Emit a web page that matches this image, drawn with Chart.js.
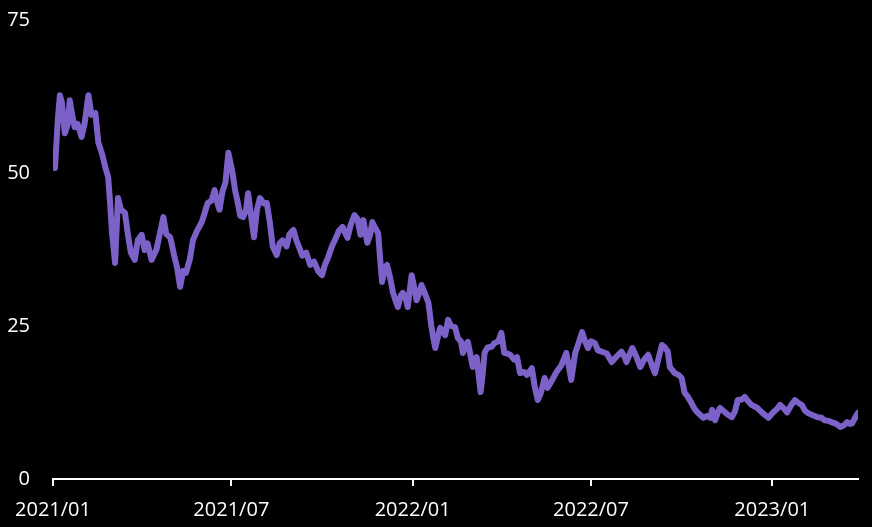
<!DOCTYPE html>
<html>
<head>
<meta charset="utf-8">
<script src="https://cdn.jsdelivr.net/npm/chart.js@4/dist/chart.umd.min.js"></script>
<style>
  html, body { margin: 0; padding: 0; background: #000; }
  #wrap { width: 872px; height: 527px; }
</style>
</head>
<body>
<div id="wrap"><canvas id="line-chart" width="872" height="527"></canvas></div>
<script>
// values
const dates = [
  '2021-01-01','2021-01-03','2021-01-06','2021-01-08','2021-01-10','2021-01-13','2021-01-16','2021-01-18','2021-01-21','2021-01-23',
  '2021-01-26','2021-01-30','2021-02-02','2021-02-06','2021-02-09','2021-02-13','2021-02-16','2021-02-20','2021-02-23','2021-02-26',
  '2021-02-28','2021-03-02','2021-03-05','2021-03-08','2021-03-11','2021-03-15','2021-03-18','2021-03-21','2021-03-25','2021-03-28',
  '2021-04-01','2021-04-04','2021-04-07','2021-04-11','2021-04-16','2021-04-20','2021-04-23','2021-04-26','2021-04-30','2021-05-04',
  '2021-05-07','2021-05-10','2021-05-13','2021-05-16','2021-05-20','2021-05-23','2021-05-27','2021-06-01','2021-06-04','2021-06-07',
  '2021-06-11','2021-06-14','2021-06-17','2021-06-19','2021-06-22','2021-06-25','2021-06-28','2021-07-02','2021-07-05','2021-07-07',
  '2021-07-10','2021-07-13','2021-07-16','2021-07-18','2021-07-21','2021-07-24','2021-07-27','2021-07-30','2021-08-03','2021-08-06',
  '2021-08-09','2021-08-12','2021-08-16','2021-08-19','2021-08-22','2021-08-26','2021-08-29','2021-09-02','2021-09-05','2021-09-07',
  '2021-09-11','2021-09-15','2021-09-19','2021-09-23','2021-09-27','2021-10-01','2021-10-04','2021-10-07','2021-10-11','2021-10-14',
  '2021-10-18','2021-10-22','2021-10-25','2021-10-27','2021-10-30','2021-11-03','2021-11-06','2021-11-09','2021-11-12','2021-11-16',
  '2021-11-19','2021-11-21','2021-11-24','2021-11-27','2021-11-29','2021-12-01','2021-12-04','2021-12-06','2021-12-09','2021-12-12',
  '2021-12-15','2021-12-17','2021-12-20','2021-12-22','2021-12-25','2021-12-27','2021-12-31','2022-01-03','2022-01-05','2022-01-08',
  '2022-01-10','2022-01-13','2022-01-17','2022-01-20','2022-01-22','2022-01-24','2022-01-27','2022-01-29','2022-02-01','2022-02-03',
  '2022-02-06','2022-02-09','2022-02-13','2022-02-16','2022-02-19','2022-02-21','2022-02-24','2022-02-26','2022-03-01','2022-03-03',
  '2022-03-07','2022-03-09','2022-03-11','2022-03-13','2022-03-15','2022-03-18','2022-03-22','2022-03-25','2022-03-29','2022-04-01',
  '2022-04-04','2022-04-07','2022-04-10','2022-04-14','2022-04-17','2022-04-20','2022-04-24','2022-04-27','2022-05-02','2022-05-05',
  '2022-05-08','2022-05-11','2022-05-15','2022-05-18','2022-05-22','2022-05-27','2022-06-01','2022-06-06','2022-06-09','2022-06-11',
  '2022-06-15','2022-06-18','2022-06-22','2022-06-25','2022-06-28','2022-07-01','2022-07-05','2022-07-08','2022-07-12','2022-07-17',
  '2022-07-22','2022-07-27','2022-08-01','2022-08-04','2022-08-06','2022-08-12','2022-08-16','2022-08-20','2022-08-24','2022-08-28',
  '2022-09-01','2022-09-04','2022-09-08','2022-09-11','2022-09-14','2022-09-17','2022-09-19','2022-09-24','2022-09-28','2022-10-01',
  '2022-10-04','2022-10-07','2022-10-11','2022-10-14','2022-10-17','2022-10-23','2022-10-27','2022-10-30','2022-11-01','2022-11-04',
  '2022-11-07','2022-11-09','2022-11-14','2022-11-17','2022-11-21','2022-11-24','2022-11-27','2022-12-01','2022-12-04','2022-12-07',
  '2022-12-11','2022-12-17','2022-12-22','2022-12-28','2023-01-02','2023-01-06','2023-01-09','2023-01-13','2023-01-16','2023-01-20',
  '2023-01-24','2023-01-27','2023-01-31','2023-02-03','2023-02-06','2023-02-10','2023-02-16','2023-02-20','2023-02-23','2023-02-27',
  '2023-03-02','2023-03-07','2023-03-11','2023-03-15','2023-03-18','2023-03-21','2023-03-23','2023-03-26','2023-03-29'
];
const values = [
  53.5, 50.8, 59, 62.7, 61.5, 56.5, 58, 61.9, 59, 57.5,
  58, 55.9, 58, 62.7, 59.5, 59.8, 55, 53, 51, 49.3,
  45, 40, 35.3, 45.9, 44, 43.5, 40, 37, 35.8, 39,
  39.9, 37.4, 38.5, 35.8, 37.5, 40.5, 42.8, 40, 39.5, 36.5,
  34.5, 31.4, 34, 33.7, 36, 39, 40.5, 42, 43.5, 45.1,
  45.5, 47.2, 45, 44, 47, 48.4, 53.3, 50.2, 47, 45.6,
  43, 42.8, 44, 46.7, 43, 39.5, 44, 45.9, 45, 45.1,
  42, 38, 36.6, 38.5, 39, 38, 40, 40.7, 39, 38.2,
  36.5, 37, 35, 35.5, 34, 33.3, 35, 36.1, 38, 39,
  40.5, 41.2, 40, 39.4, 41.5, 43.1, 42.5, 39.9, 42.3, 38.6,
  40, 42, 41, 40.2, 36, 32.2, 34.5, 35, 33, 30.5,
  29, 28.1, 30, 30.4, 29.5, 28.1, 33.3, 31, 29.2, 30.5,
  31.7, 30.5, 28.8, 25, 23, 21.4, 23.5, 24.7, 24, 23.5,
  26, 25, 24.8, 23, 22.5, 20.6, 22, 22.4, 20, 18.3,
  19.9, 17, 14.2, 17, 20.6, 21.5, 21.6, 22.2, 22.5, 23.9,
  20.6, 20.5, 20.3, 19.5, 19.9, 17.3, 17.5, 17, 18.1, 15,
  12.9, 14, 16.5, 14.9, 16, 17.5, 18.6, 20.6, 18, 16.2,
  20.6, 22, 24, 22.5, 21.4, 22.5, 22.2, 21, 20.8, 20.5,
  19.1, 20, 20.8, 20, 19.1, 21.4, 20, 18.3, 19.5, 20.3,
  18.5, 17.3, 20, 21.9, 21.5, 20.8, 18.3, 17.3, 17, 16.5,
  14.1, 13.5, 12.4, 11.5, 10.9, 10, 10.3, 10, 11.3, 9.6,
  11, 11.6, 10.9, 10.5, 10.1, 11, 12.9, 13, 13.4, 12.8,
  12.1, 11.6, 10.8, 10, 10.9, 11.5, 12.1, 11.5, 10.9, 12,
  12.9, 12.5, 12.1, 11.2, 10.8, 10.5, 10.1, 10, 9.6, 9.5,
  9.3, 9, 8.5, 8.8, 9.3, 9, 9.1, 10, 10.8
];
const tickDates = ['2021-01-01', '2021-07-01', '2022-01-01', '2022-07-01', '2023-01-01'];
const tickLabels = ['2021/01', '2021/07', '2022/01', '2022/07', '2023/01'];
const yTicks = [0, 25, 50, 75];

const DAY = 86400000;
const dayOf = s => (Date.parse(s) - Date.parse(dates[0])) / DAY;

Chart.defaults.font.family = "'Open Sans', 'Noto Sans', sans-serif";
Chart.defaults.font.size = 20;
Chart.defaults.color = '#ffffff';

const ctx = document.getElementById('line-chart').getContext('2d');
new Chart(ctx, {
  type: 'line',
  data: {
    datasets: [{
      data: dates.map((d, i) => ({ x: dayOf(d), y: values[i] })),
      borderColor: '#7b61c8',
      borderWidth: 6,
      pointRadius: 0,
      tension: 0,
      borderJoinStyle: 'round',
      borderCapStyle: 'round',
      fill: false
    }]
  },
  options: {
    responsive: false,
    animation: false,
    layout: { padding: { top: 0, right: 14, left: 0, bottom: 0 } },
    plugins: { legend: { display: false }, tooltip: { enabled: false } },
    scales: {
      x: {
        type: 'linear',
        min: 0,
        max: dayOf(dates[dates.length - 1]),
        afterBuildTicks: scale => {
          scale.ticks = tickDates.map(d => ({ value: dayOf(d) }));
        },
        afterFit: scale => { scale.height = 48; },
        ticks: {
          autoSkip: false,
          maxRotation: 0,
          padding: 12,
          color: '#ffffff',
          callback: (value, index) => tickLabels[index]
        },
        grid: {
          display: true,
          drawOnChartArea: false,
          drawTicks: true,
          tickLength: 7,
          color: '#ffffff',
          lineWidth: 2
        },
        border: { display: true, color: '#ffffff', width: 2 }
      },
      y: {
        min: 0,
        max: 75,
        afterBuildTicks: scale => {
          scale.ticks = yTicks.map(v => ({ value: v }));
        },
        afterFit: scale => {
          scale.width = 53;
          // keep the label gap from pushing the plot area down
          scale.paddingTop = 20;
          scale.paddingBottom = 0;
        },
        ticks: { padding: 23, color: '#ffffff' },
        grid: { display: false, drawTicks: false },
        border: { display: false }
      }
    }
  }
});
</script>
</body>
</html>
